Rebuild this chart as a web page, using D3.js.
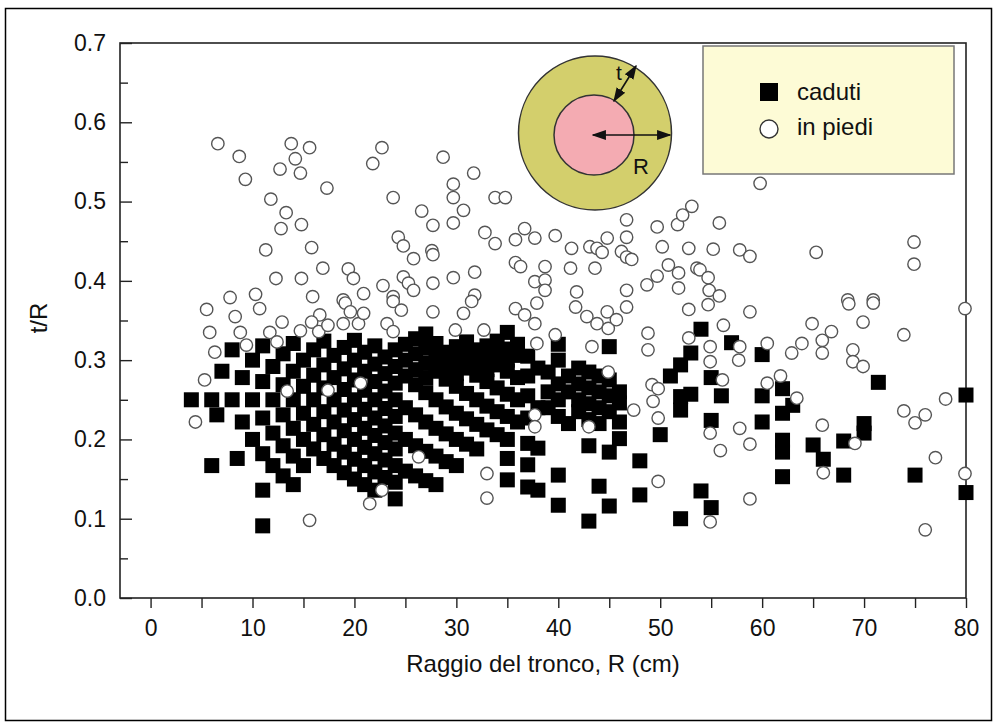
<!DOCTYPE html>
<html><head><meta charset="utf-8">
<script src="https://cdn.jsdelivr.net/npm/d3@7"></script>
<style>body{margin:0;background:#fff}svg{display:block}text{font-family:"Liberation Sans",Arial,Helvetica,sans-serif;fill:#111}</style>
</head><body><svg id="c" width="997" height="727"></svg>
<script>
// ---- data ----
const xTickValues = [0,10,20,30,40,50,60,70,80];
const yTickValues = [0,0.1,0.2,0.3,0.4,0.5,0.6,0.7];
const legendLabels = ["caduti","in piedi"];
const xTitle = "Raggio del tronco, R (cm)";
const yTitle = "t/R";

// caduti (fallen) : [R, t/R]
const caduti = [
[4,.25],[6,.25],[6,.167],[6.5,.231],[7,.286],[8,.313],[8,.25],[8.5,.176],
[9,.278],[9,.222],[10,.3],[10,.25],[10,.2],
[11,.318],[11,.273],[11,.227],[11,.182],[11,.136],[11,.091],
[12,.292],[12,.25],[12,.208],[12,.167],
[13,.308],[13,.269],[13,.231],[13,.192],[13,.154],
[14,.321],[14,.286],[14,.25],[14,.214],[14,.179],[14,.143],
[15,.3],[15,.267],[15,.233],[15,.2],[15,.167],
[16,.313],[16,.281],[16,.25],[16,.219],[16,.188],
[17,.324],[17,.294],[17,.265],[17,.235],[17,.206],[17,.176],
[18,.306],[18,.278],[18,.25],[18,.222],[18,.194],[18,.167],
[19,.316],[19,.289],[19,.263],[19,.237],[19,.211],[19,.184],[19,.158],
[20,.325],[20,.3],[20,.275],[20,.25],[20,.225],[20,.2],[20,.175],[20,.15],
[21,.31],[21,.286],[21,.262],[21,.238],[21,.214],[21,.19],[21,.167],[21,.143],
[22,.318],[22,.295],[22,.273],[22,.25],[22,.227],[22,.205],[22,.182],[22,.159],[22,.136],
[23,.304],[23,.283],[23,.261],[23,.239],[23,.217],[23,.196],[23,.174],[23,.152],
[24,.313],[24,.292],[24,.271],[24,.25],[24,.229],[24,.208],[24,.188],[24,.167],[24,.146],[24,.125],
[25,.32],[25,.3],[25,.28],[25,.24],[25,.2],[25,.16],
[26,.327],[26,.308],[26,.288],[26,.269],[26,.231],[26,.192],[26,.154],
[27,.333],[27,.315],[27,.296],[27,.278],[27,.259],[27,.222],[27,.185],[27,.148],
[28,.321],[28,.304],[28,.286],[28,.25],[28,.214],[28,.179],[28,.143],
[29,.31],[29,.293],[29,.276],[29,.241],[29,.207],[29,.172],
[30,.317],[30,.3],[30,.283],[30,.267],[30,.233],[30,.2],[30,.167],
[31,.323],[31,.306],[31,.29],[31,.258],[31,.226],[31,.194],
[32,.313],[32,.297],[32,.281],[32,.25],[32,.219],[32,.188],
[33,.318],[33,.303],[33,.288],[33,.273],[33,.242],[33,.212],
[34,.324],[34,.309],[34,.294],[34,.265],[34,.235],[34,.206],
[35,.335],[35,.314],[35,.3],[35,.286],[35,.257],[35,.229],[35,.2],[35,.176],[35,.149],
[36,.32],[36,.306],[36,.278],[36,.25],[36,.222],
[37,.305],[37,.28],[37,.255],[37,.227],[37,.195],[37,.168],[37,.14],
[38,.29],[38,.24],[38,.189],[38,.136],
[39,.285],[39,.26],[39,.24],
[40,.32],[40,.3],[40,.27],[40,.25],[40,.229],[40,.155],[40,.117],
[41,.28],[41,.26],[41,.22],
[42,.29],[42,.27],[42,.25],[42,.235],
[43,.285],[43,.265],[43,.245],[43,.225],[43,.192],[43,.097],
[44,.28],[44,.26],[44,.24],[44,.22],[44,.141],
[45,.317],[45,.275],[45,.255],[45,.235],[45,.184],[45,.116],
[46,.26],[46,.246],[46,.222],[46,.201],
[48,.173],[48,.13],[50,.206],[51,.28],
[52,.294],[52,.254],[52,.237],[52,.1],[53,.309],[53,.257],[54,.339],[54,.135],
[55,.278],[55,.224],[55,.114],[56,.255],[57,.322],
[60,.307],[60,.255],[60,.222],
[62,.264],[62,.233],[62,.199],[62,.184],[62,.153],[63,.243],
[65,.193],[66,.175],[68,.198],[68,.155],[70,.22],[70,.208],[71.4,.272],
[75,.155],[80,.256],[80,.133]
];

// in piedi (standing) : [R, t/R]
const inPiedi = [
[6.6,.573],[8.7,.557],[9.3,.528],[13.8,.573],[15.6,.568],[14.2,.554],[12.7,.541],[14.7,.536],
[17.3,.517],[22.7,.568],[21.8,.548],[23.8,.505],[11.8,.503],[13.3,.486],[12.8,.466],[14.8,.471],
[11.3,.439],[15.8,.442],[16.9,.416],[19.4,.415],[19.9,.403],[12.3,.403],[14.8,.403],
[24.3,.455],[24.8,.444],[25.8,.428],[22.8,.394],[24.8,.405],[25.3,.397],[25.8,.388],
[20.9,.384],[23.8,.38],[15.9,.38],[10.3,.383],[7.8,.379],[18.9,.376],
[28.7,.556],[31.7,.536],[29.7,.522],[29.7,.505],[30.7,.489],[33.8,.505],[34.8,.505],[26.6,.488],
[27.7,.47],[29.7,.473],[32.8,.461],[33.8,.447],[35.8,.452],[36.7,.466],[37.7,.454],[39.7,.457],
[27.6,.438],[27.7,.433],[31.8,.411],[29.7,.404],[27.7,.397],[31.8,.382],[35.8,.423],[36.3,.418],
[38.7,.418],[37.7,.399],[38.7,.401],[38.7,.388],[41.3,.441],[41.2,.416],[41.8,.386],
[43.1,.443],[43.8,.441],[44.3,.436],[44.8,.454],[43.6,.416],[46.2,.437],[46.7,.43],[47.2,.427],
[46.7,.455],[46.7,.477],[46.7,.388],[49.7,.468],[50.2,.443],[48.7,.395],[49.7,.406],[50.8,.42],
[51.7,.471],[52.2,.483],[53.1,.494],[52.8,.441],[51.8,.41],[51.8,.391],[53.6,.416],
[55.8,.473],[55.2,.44],[57.8,.439],[58.8,.431],[65.3,.436],[74.9,.449],[74.9,.421],
[53.9,.414],[54.7,.404],[54.8,.388],[55.8,.381],[68.4,.376],[70.9,.376],[59.8,.523],
[41.7,.367],[42.8,.355],[43.8,.346],[44.8,.361],[44.9,.34],[45.7,.351],[46.7,.367],[43.3,.317],
[44.9,.285],[48.8,.334],[48.8,.313],[52.8,.364],[54.7,.37],[58.8,.361],[56.2,.344],[52.8,.328],
[54.9,.317],[57.8,.317],[57.7,.3],[60.5,.321],[54.9,.298],[49.2,.269],[49.8,.264],[56.1,.275],
[60.5,.271],[49.3,.248],[49.8,.227],[47.4,.237],[43,.216],[54.9,.208],[57.8,.214],[58.8,.194],
[55.9,.186],[49.8,.147],[58.8,.125],[54.9,.096],
[68.5,.371],[70.9,.372],[64.9,.346],[66.8,.336],[65.9,.325],[63.9,.321],[62.9,.309],[65.9,.309],
[69.9,.348],[73.9,.332],[68.9,.313],[68.9,.298],[69.9,.292],[79.9,.365],[61.8,.28],[63.4,.252],
[78,.251],[73.9,.236],[75,.221],[76,.231],[65.9,.218],[69.1,.195],[77,.177],[66,.158],[79.9,.157],[76,.086],
[5.5,.364],[10.7,.365],[8.3,.355],[12.9,.348],[5.8,.335],[8.8,.335],[11.7,.335],[14.7,.337],
[9.4,.319],[6.3,.31],[12.4,.323],[5.3,.275],[13.4,.261],[4.4,.222],
[19.1,.372],[23.8,.374],[24.6,.363],[16.6,.357],[15.8,.348],[18.9,.346],[20.4,.346],[19.6,.361],
[20.9,.359],[16.5,.336],[17.4,.344],[23.2,.346],[23.8,.336],[27.7,.361],[20.6,.271],[17.4,.262],
[31.5,.374],[30.7,.359],[29.9,.338],[32.7,.338],[35.8,.365],[36.7,.357],[37.9,.372],[37.7,.346],
[39.7,.332],[37.9,.321],
[26.3,.178],[22.7,.136],[21.5,.119],[15.6,.098],[37.7,.231],[37.7,.216],[33,.157],[33,.126]
];

// ---- drawing ----
const FONT = "'Liberation Sans',Arial,Helvetica,sans-serif";
const svg = d3.select("#c");
svg.append("rect").attr("x",5.5).attr("y",8.5).attr("width",986).attr("height",712)
  .attr("fill","#fff").attr("stroke","#000").attr("stroke-width",1.5);

const x = d3.scaleLinear().domain([-3,80]).range([120,966]);
const y = d3.scaleLinear().domain([0,0.7]).range([598,43]);

const g = svg.append("g");
g.append("rect").attr("x",120).attr("y",43).attr("width",846).attr("height",555)
  .attr("fill","none").attr("stroke","#222").attr("stroke-width",1.6);

// x axis (ticks outward, every 5)
const xAxis = d3.axisBottom(x).tickValues(d3.range(0,81,5)).tickSize(10)
  .tickFormat(d => xTickValues.includes(d) ? d : "");
const gx = g.append("g").attr("transform","translate(0,598)").call(xAxis);
gx.select(".domain").remove();
gx.selectAll(".tick line").attr("stroke","#222").attr("stroke-width",1.4);
gx.selectAll(".tick text").attr("font-size",23).attr("y",22).attr("dy","0.71em")
  .style("font-family",FONT).attr("fill","#111");

// y axis (ticks inward)
const yAxis = d3.axisLeft(y).tickValues(d3.range(0,0.701,0.05)).tickSize(-10)
  .tickFormat(d => { const r = Math.round(d*100)/100; return yTickValues.some(v=>Math.abs(v-r)<1e-9) ? d3.format(".1f")(r) : ""; });
const gy = g.append("g").attr("transform","translate(120,0)").call(yAxis);
gy.select(".domain").remove();
gy.selectAll(".tick line").attr("stroke","#222").attr("stroke-width",1.4)
  .attr("x2", d => (Math.round(d*100) % 10 === 0) ? 12 : 8);
gy.selectAll(".tick text").attr("font-size",23).attr("x",-14)
  .style("font-family",FONT).attr("fill","#111");

// titles
svg.append("text").attr("x",543).attr("y",672).attr("text-anchor","middle")
  .attr("font-size",24).text(xTitle);
svg.append("text").attr("transform","translate(47,318) rotate(-90)").attr("text-anchor","middle")
  .attr("font-size",24).text(yTitle);

// inset diagram
const inset = svg.append("g");
inset.append("ellipse").attr("cx",595).attr("cy",133).attr("rx",76.5).attr("ry",77)
  .attr("fill","#d3cf6c").attr("stroke","#333").attr("stroke-width",1.5);
inset.append("circle").attr("cx",594).attr("cy",135).attr("r",40)
  .attr("fill","#f4abb2").attr("stroke","#333").attr("stroke-width",1.5);
const defs = svg.append("defs");
defs.append("marker").attr("id","ah").attr("viewBox","0 0 10 10").attr("refX",9).attr("refY",5)
  .attr("markerWidth",9).attr("markerHeight",9).attr("orient","auto-start-reverse")
  .append("path").attr("d","M0,1.5 L10,5 L0,8.5 Z").attr("fill","#111");
inset.append("line").attr("x1",593).attr("y1",135).attr("x2",670).attr("y2",135)
  .attr("stroke","#111").attr("stroke-width",1.6)
  .attr("marker-start","url(#ah)").attr("marker-end","url(#ah)");
inset.append("line").attr("x1",614).attr("y1",101).attr("x2",636).attr("y2",66)
  .attr("stroke","#111").attr("stroke-width",1.6)
  .attr("marker-start","url(#ah)").attr("marker-end","url(#ah)");
inset.append("text").attr("x",641).attr("y",174).attr("text-anchor","middle").attr("font-size",22).text("R");
inset.append("text").attr("x",619).attr("y",80).attr("text-anchor","middle").attr("font-size",21).text("t");

// data
const plot = svg.append("g");
plot.selectAll("rect.cad").data(caduti).join("rect").attr("class","cad")
  .attr("x", d => x(d[0]) - 7.5).attr("y", d => y(d[1]) - 7.5)
  .attr("width",15).attr("height",15).attr("fill","#000");
plot.selectAll("circle.pie").data(inPiedi).join("circle").attr("class","pie")
  .attr("cx", d => x(d[0])).attr("cy", d => y(d[1])).attr("r",6.2)
  .attr("fill","#fff").attr("stroke","#555").attr("stroke-width",1.4);

// legend
const lg = svg.append("g");
lg.append("rect").attr("x",703).attr("y",46).attr("width",251).attr("height",128)
  .attr("fill","#fdfbd6").attr("stroke","#777").attr("stroke-width",1.5);
lg.append("rect").attr("x",760).attr("y",83).attr("width",18).attr("height",18).attr("fill","#000");
lg.append("circle").attr("cx",769).attr("cy",129).attr("r",9).attr("fill","#fff").attr("stroke","#333").attr("stroke-width",1.4);
lg.append("text").attr("x",797).attr("y",100).attr("font-size",24).text(legendLabels[0]);
lg.append("text").attr("x",797).attr("y",135).attr("font-size",24).text(legendLabels[1]);
</script></body></html>
